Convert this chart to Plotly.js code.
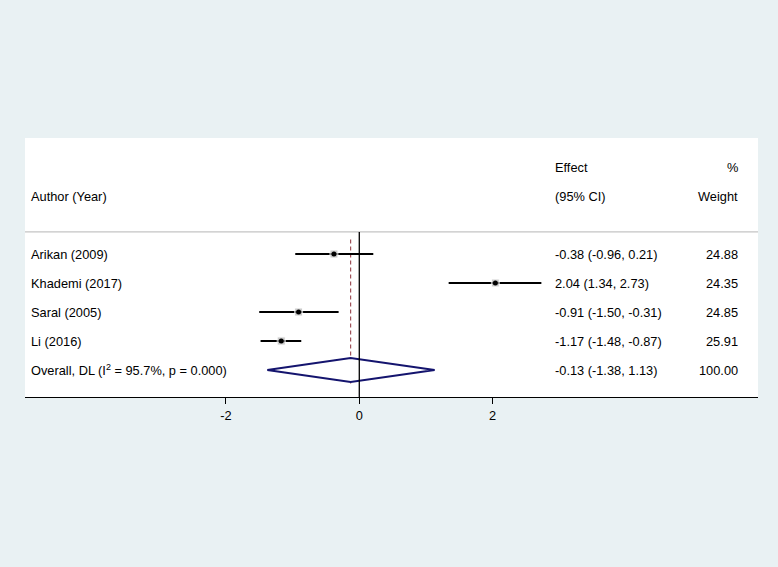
<!DOCTYPE html>
<html>
<head>
<meta charset="utf-8">
<script src="https://cdn.plot.ly/plotly-3.0.1.min.js"></script>
<style>html,body{margin:0;padding:0;background:#e9f1f3;}</style>
</head>
<body>
<div id="chart" style="width:778px;height:567px;"></div>
<script>
// Data
const studies = ["Arikan (2009)", "Khademi (2017)", "Saral (2005)", "Li (2016)"];
const effects = [-0.38, 2.04, -0.91, -1.17];
const lowerCI = [-0.96, 1.34, -1.50, -1.48];
const upperCI = [0.21, 2.73, -0.31, -0.87];
const weights = [24.88, 24.35, 24.85, 25.91];
const overallLabel = "Overall, DL (I<sup>2</sup> = 95.7%, p = 0.000)";
const overallEffect = -0.13;
const overallLower = -1.38;
const overallUpper = 1.13;
const overallWeight = 100.00;
const xTicks = [-2, 0, 2];

const FONT = "Liberation Sans, Arial, Helvetica, sans-serif";
const FS = 12.8;
const rows = studies.map((s, i) => i + 1);
const overallRow = studies.length + 1;
const yTop = -3.0, yBottom = 5.931;

const traces = [];
// CI lines
studies.forEach((s, i) => {
  traces.push({
    x: [lowerCI[i], upperCI[i]], y: [rows[i], rows[i]],
    mode: "lines", line: {color: "#000000", width: 2},
    hoverinfo: "skip", showlegend: false
  });
});
// Weight boxes
traces.push({
  x: effects, y: rows, mode: "markers",
  marker: {symbol: "square", color: "#b4b4b4", size: weights.map(w => 8 * Math.sqrt(w / 25))},
  hoverinfo: "skip", showlegend: false
});
// Point estimates
traces.push({
  x: effects, y: rows, mode: "markers",
  marker: {symbol: "circle", color: "#000000", size: 5},
  hoverinfo: "skip", showlegend: false
});
// Diamond
const dh = 0.41;
traces.push({
  x: [overallLower, overallEffect, overallUpper, overallEffect, overallLower],
  y: [overallRow, overallRow - dh, overallRow, overallRow + dh, overallRow],
  mode: "lines", fill: "toself", fillcolor: "rgba(255,255,255,1)",
  line: {color: "#14146e", width: 2},
  hoverinfo: "skip", showlegend: false
});

const fmt = v => v.toFixed(2);
const annotations = [];
function txt(x, y, text, anchor) {
  annotations.push({xref: "paper", yref: "y", x: x, y: y, text: text, showarrow: false,
    xanchor: anchor, yanchor: "middle", font: {family: FONT, size: FS, color: "#000"}});
}
const xLab = 0.005, xEff = 0.7205, xW = 0.975;
txt(xLab, -0.966, "Author (Year)", "left");
txt(xEff, -1.966, "Effect", "left");
txt(xEff, -0.966, "(95% CI)", "left");
txt(xW, -1.966, "%", "right");
txt(xW, -0.966, "Weight", "right");
studies.forEach((s, i) => {
  txt(xLab, rows[i], s, "left");
  txt(xEff, rows[i], fmt(effects[i]) + " (" + fmt(lowerCI[i]) + ", " + fmt(upperCI[i]) + ")", "left");
  txt(xW, rows[i], fmt(weights[i]), "right");
});
txt(xLab, overallRow, overallLabel, "left");
txt(xEff, overallRow, fmt(overallEffect) + " (" + fmt(overallLower) + ", " + fmt(overallUpper) + ")", "left");
txt(xW, overallRow, fmt(overallWeight), "right");

const shapes = [
  // separator
  {type: "line", xref: "paper", yref: "y", x0: 0, x1: 1, y0: 0.24, y1: 0.24,
   line: {color: "#c4c4c4", width: 1.3}, layer: "below"},
  // overall dashed line
  {type: "line", xref: "x", yref: "y", x0: overallEffect, x1: overallEffect, y0: 0.5, y1: overallRow + 0.5,
   line: {color: "#a0525a", width: 1.2, dash: "4px,3px"}, layer: "below"},
  // null line
  {type: "line", xref: "x", yref: "y", x0: 0, x1: 0, y0: 0.24, y1: yBottom,
   line: {color: "#000000", width: 1.3}, layer: "above"}
];

const layout = {
  width: 778, height: 567,
  margin: {l: 25, r: 20, t: 138, b: 170},
  paper_bgcolor: "#e9f1f3", plot_bgcolor: "#ffffff",
  showlegend: false,
  xaxis: {
    range: [-5.012, 5.978], tickvals: xTicks, ticktext: xTicks.map(String),
    showgrid: false, zeroline: false, showline: true, linecolor: "#000", linewidth: 1.3,
    ticks: "outside", ticklen: 6, tickcolor: "#000", tickwidth: 1,
    tickfont: {family: FONT, size: FS, color: "#000"}, fixedrange: true
  },
  yaxis: {
    range: [yBottom, yTop], showgrid: false, zeroline: false, showline: false,
    showticklabels: false, ticks: "", fixedrange: true
  },
  shapes: shapes,
  annotations: annotations,
  font: {family: FONT, size: FS, color: "#000"}
};

Plotly.newPlot("chart", traces, layout, {displayModeBar: false, staticPlot: true});
</script>
</body>
</html>
